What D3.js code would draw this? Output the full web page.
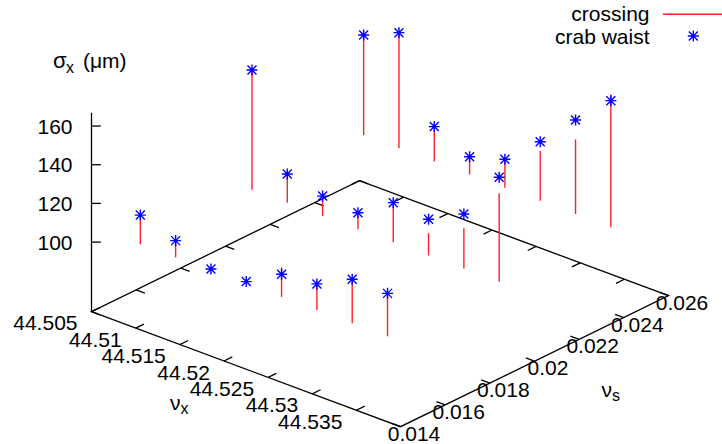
<!DOCTYPE html>
<html>
<head>
<meta charset="utf-8">
<script src="https://cdn.jsdelivr.net/npm/d3@7"></script>
<style>
  html, body { margin: 0; padding: 0; background: #fff; }
  svg text { font-family: "Liberation Sans", Arial, Helvetica, sans-serif; font-size: 21px; fill: #000; }
</style>
</head>
<body>
<svg id="chart" width="722" height="444"></svg>
<script>
// Tune scan: horizontal tune ν_x, synchrotron tune ν_s, horizontal beam size σ_x (μm)
const nuX = [44.508, 44.512, 44.516, 44.520, 44.524, 44.528, 44.532, 44.536];
const nuS = [0.015, 0.020, 0.025];

// one row per ν_s value, one column per ν_x value
const crossing = [
  [112.9, 107.0, 98.3, 99.0, 113.6, 111.5, 121.0, 120.0],
  [160.0, 113.0, 108.5, 105.6, 118.5, 109.8, 119.1, 144.0],
  [150.0, 158.0, 116.0, 107.5, 112.5, 124.1, 136.9, 166.9]
];
const crabWaist = [
  [113.4, 107.0, 99.1, 99.4, 110.0, 111.8, 121.0, 120.5],
  [160.2, 113.2, 108.6, 106.8, 118.8, 117.0, 126.5, 152.3],
  [150.1, 158.1, 116.3, 107.5, 113.0, 128.9, 146.9, 163.7]
];

const nuXTicks = [44.505, 44.51, 44.515, 44.52, 44.525, 44.53, 44.535];
const nuSTicks = [0.014, 0.016, 0.018, 0.02, 0.022, 0.024, 0.026];
const zTicks = [100, 120, 140, 160];

const nuXRange = [44.505, 44.54];
const nuSRange = [0.014, 0.026];
const zRange = [98.3, 166.9];
const ticsLevel = 0.5;

// ---- projection: orthographic view of the unit box ----
const origin = [91.5, 311.7];      // screen position of (ν_x min, ν_s min, floor)
const ex = [309, 115];             // screen vector spanned by the ν_x range
const ey = [268, -131];            // screen vector spanned by the ν_s range
const zHeight = 199;               // screen height from floor to z max

const zFloor = zRange[0] - ticsLevel * (zRange[1] - zRange[0]);

const xN = d3.scaleLinear().domain(nuXRange).range([0, 1]);
const yN = d3.scaleLinear().domain(nuSRange).range([0, 1]);
const zN = d3.scaleLinear().domain([zFloor, zRange[1]]).range([0, 1]);

function project(x, y, z) {
  const u = xN(x), v = yN(y), w = zN(z);
  return [origin[0] + u * ex[0] + v * ey[0],
          origin[1] + u * ex[1] + v * ey[1] - w * zHeight];
}
function unit(vec) {
  const l = Math.hypot(vec[0], vec[1]);
  return [vec[0] / l, vec[1] / l];
}
const ticLen = 9.3;
const ux = unit(ex), uy = unit(ey);

const svg = d3.select("#chart");
const line = d3.line();

// ---- box base and left vertical ----
const gAxes = svg.append("g").attr("stroke", "#000").attr("stroke-width", 1.3).attr("fill", "none");
gAxes.append("path").attr("d", line([
  project(nuXRange[0], nuSRange[0], zFloor),
  project(nuXRange[1], nuSRange[0], zFloor),
  project(nuXRange[1], nuSRange[1], zFloor),
  project(nuXRange[0], nuSRange[1], zFloor)
]) + "Z");
gAxes.append("path").attr("d", line([
  project(nuXRange[0], nuSRange[0], zFloor),
  project(nuXRange[0], nuSRange[0], zRange[1])
]));

// ν_x tics on the front edge, mirrored on the back edge
nuXTicks.forEach(t => {
  const p = project(t, nuSRange[0], zFloor);
  gAxes.append("path").attr("d", line([p, [p[0] + uy[0] * ticLen, p[1] + uy[1] * ticLen]]));
  const q = project(t, nuSRange[1], zFloor);
  gAxes.append("path").attr("d", line([q, [q[0] - uy[0] * ticLen, q[1] - uy[1] * ticLen]]));
  svg.append("text")
    .attr("x", p[0] - 14).attr("y", p[1] + 11)
    .attr("dy", "0.36em")
    .attr("text-anchor", "end")
    .text(d3.format("")(t));
});

// ν_s tics on the right edge, mirrored on the left back edge
nuSTicks.forEach(t => {
  const p = project(nuXRange[1], t, zFloor);
  gAxes.append("path").attr("d", line([p, [p[0] - ux[0] * ticLen, p[1] - ux[1] * ticLen]]));
  const q = project(nuXRange[0], t, zFloor);
  gAxes.append("path").attr("d", line([q, [q[0] + ux[0] * ticLen, q[1] + ux[1] * ticLen]]));
  svg.append("text")
    .attr("x", p[0] + 13.5).attr("y", p[1] + 6.5)
    .attr("dy", "0.36em")
    .attr("text-anchor", "middle")
    .text(d3.format("")(t));
});

// σ_x tics on the vertical axis
zTicks.forEach(t => {
  const p = project(nuXRange[0], nuSRange[0], t);
  gAxes.append("path").attr("d", line([p, [p[0] + ticLen, p[1]]]));
  svg.append("text")
    .attr("x", p[0] - 19).attr("y", p[1])
    .attr("dy", "0.36em")
    .attr("text-anchor", "end")
    .text(t);
});

// ---- axis titles ----
const zl = svg.append("text").attr("x", 53).attr("y", 68);
zl.append("tspan").style("font-size", "22px").text("σ");
zl.append("tspan").attr("x", 66).attr("dy", 5).style("font-size", "16px").text("x");
zl.append("tspan").attr("x", 83).attr("dy", -5).text("(μm)");

const xl = svg.append("text").attr("x", 170).attr("y", 410);
xl.append("tspan").text("ν");
xl.append("tspan").attr("dy", 4).style("font-size", "16px").text("x");

const sl = svg.append("text").attr("x", 601.5).attr("y", 396.7);
sl.append("tspan").text("ν");
sl.append("tspan").attr("dy", 4).style("font-size", "16px").text("s");

// ---- crossing: impulses from the bottom of the z range up to the value ----
const impulses = [];
nuS.forEach((s, r) => nuX.forEach((x, j) => {
  const v = crossing[r][j];
  if (v > zRange[0]) impulses.push([project(x, s, zRange[0]), project(x, s, v)]);
}));
svg.append("g")
  .attr("stroke", "#ff2222").attr("stroke-width", 1.4).attr("fill", "none")
  .selectAll("path").data(impulses).join("path")
  .attr("d", d => line(d));

// ---- crab waist: star points ----
const starPath = "M-5.5,0H5.5M0,-5.5V5.5M-4.5,-4.5L4.5,4.5M-4.5,4.5L4.5,-4.5";
const stars = [];
nuS.forEach((s, r) => nuX.forEach((x, j) => stars.push(project(x, s, crabWaist[r][j]))));
svg.append("g")
  .attr("stroke", "#0000ff").attr("stroke-width", 1.4).attr("fill", "none")
  .selectAll("path").data(stars).join("path")
  .attr("transform", d => `translate(${d[0]},${d[1]})`)
  .attr("d", starPath);

// ---- key ----
svg.append("text").attr("x", 649.5).attr("y", 21).attr("text-anchor", "end").text("crossing");
svg.append("text").attr("x", 649.5).attr("y", 43.5).attr("text-anchor", "end").text("crab waist");
svg.append("path").attr("d", line([[663, 14.3], [723, 14.3]]))
  .attr("stroke", "#ff2222").attr("stroke-width", 1.4);
svg.append("path").attr("transform", "translate(693.3,36)").attr("d", starPath)
  .attr("stroke", "#0000ff").attr("stroke-width", 1.4).attr("fill", "none");
</script>
</body>
</html>
